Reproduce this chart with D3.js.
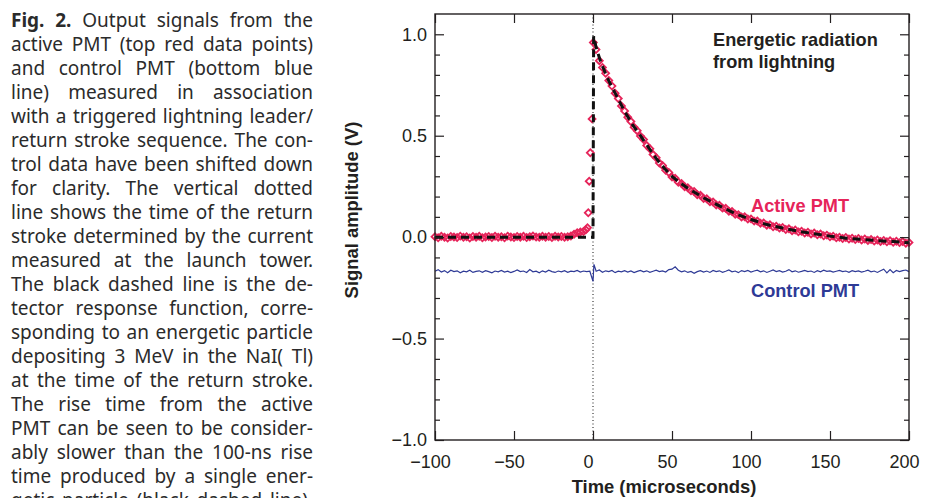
<!DOCTYPE html>
<html>
<head>
<meta charset="utf-8">
<script src="https://cdn.jsdelivr.net/npm/d3@7"></script>
<style>
  body { margin: 0; background: #fff; }
  svg { display: block; }
</style>
</head>
<body>
<div class="fig"></div>
<script>
var captionLines = [
  "Fig. 2. Output signals from the",
  "active PMT (top red data points)",
  "and control PMT (bottom blue",
  "line) measured in association",
  "with a triggered lightning leader/",
  "return stroke sequence. The con-",
  "trol data have been shifted down",
  "for clarity. The vertical dotted",
  "line shows the time of the return",
  "stroke determined by the current",
  "measured at the launch tower.",
  "The black dashed line is the de-",
  "tector response function, corre-",
  "sponding to an energetic particle",
  "depositing 3 MeV in the NaI( Tl)",
  "at the time of the return stroke.",
  "The rise time from the active",
  "PMT can be seen to be consider-",
  "ably slower than the 100-ns rise",
  "time produced by a single ener-",
  "getic particle (black dashed line)."
];

var xTicks = [-100, -50, 0, 50, 100, 150, 200];
var yTicks = [-1.0, -0.5, 0.0, 0.5, 1.0];
var yMinorTicks = [-0.9, -0.8, -0.7, -0.6, -0.4, -0.3, -0.2, -0.1, 0.1, 0.2, 0.3, 0.4, 0.6, 0.7, 0.8, 0.9];

// active PMT (red diamonds)
var activeTime = [
  -100, -98, -96, -94, -92, -90, -88, -86, -84, -82, -80, -78, -76, -74, -72, -70, -68, -66, -64, -62,
  -60, -58, -56, -54, -52, -50, -48, -46, -44, -42, -40, -38, -36, -34, -32, -30, -28, -26, -24, -22,
  -20, -18, -16, -14, -12, -10, -8, -6, -4.5, -3.5,
  -3.0, -2.4, -1.7, -0.6, 0.2, 1.9,
  4, 6, 8, 10, 12, 14, 16, 18, 20, 22, 24, 26, 28, 30, 32, 34, 36, 38, 40, 42,
  44, 46, 48, 50, 52, 54, 56, 58, 60, 62, 64, 66, 68, 70, 72, 74, 76, 78, 80, 82,
  84, 86, 88, 90, 92, 94, 96, 98, 100, 102, 104, 106, 108, 110, 112, 114, 116, 118, 120, 122,
  124, 126, 128, 130, 132, 134, 136, 138, 140, 142, 144, 146, 148, 150, 152, 154, 156, 158, 160, 162,
  164, 166, 168, 170, 172, 174, 176, 178, 180, 182, 184, 186, 188, 190, 192, 194, 196, 198, 200
];
var activeValue = [
  0.002, -0.003, 0.004, 0.000, -0.004, 0.003, 0.001, -0.002, 0.005, -0.001, 0.002, -0.004, 0.003, 0.000, 0.004, -0.003, 0.001, 0.003, -0.002, 0.004,
  0.000, 0.002, -0.003, 0.005, 0.001, -0.002, 0.003, 0.000, 0.004, -0.002, 0.002, 0.006, 0.001, -0.001, 0.004, 0.000, 0.003, -0.002, 0.004, 0.001,
  0.003, -0.001, 0.002, 0.006, 0.014, 0.022, 0.025, 0.028, 0.036, 0.046,
  0.120, 0.276, 0.416, 0.583, 0.960, 0.925,
  0.870, 0.836, 0.808, 0.772, 0.745, 0.709, 0.683, 0.647, 0.622, 0.591, 0.570, 0.542, 0.525, 0.498, 0.481, 0.452, 0.436, 0.407, 0.391, 0.365,
  0.353, 0.330, 0.319, 0.297, 0.290, 0.271, 0.265, 0.248, 0.244, 0.229, 0.225, 0.209, 0.206, 0.191, 0.189, 0.175, 0.173, 0.159, 0.157, 0.143,
  0.142, 0.128, 0.126, 0.113, 0.111, 0.099, 0.100, 0.089, 0.090, 0.079, 0.080, 0.069, 0.070, 0.059, 0.061, 0.051, 0.054, 0.045, 0.048, 0.038,
  0.041, 0.032, 0.035, 0.026, 0.029, 0.020, 0.024, 0.016, 0.020, 0.012, 0.015, 0.007, 0.010, 0.002, 0.005, -0.003, 0.000, -0.007, -0.002, -0.009,
  -0.005, -0.012, -0.007, -0.014, -0.009, -0.016, -0.012, -0.019, -0.014, -0.021, -0.016, -0.023, -0.018, -0.025, -0.020, -0.027, -0.022, -0.030, -0.026
];

// control PMT (blue line, shifted down)
var controlTime = [
  -100, -98, -96, -94, -92, -90, -88, -86, -84, -82, -80, -78, -76, -74, -72, -70, -68, -66, -64, -62,
  -60, -58, -56, -54, -52, -50, -48, -46, -44, -42, -40, -38, -36, -34, -32, -30, -28, -26, -24, -22,
  -20, -18, -16, -14, -12, -10, -8, -6, -4, -2, 0, 0.6,
  2, 4, 6, 8, 10, 12, 14, 16, 18, 20, 22, 24, 26, 28, 30, 32, 34, 36, 38, 40,
  42, 44, 46, 48, 50, 52, 54, 56, 58, 60, 62, 64, 66, 68, 70, 72, 74, 76, 78, 80,
  82, 84, 86, 88, 90, 92, 94, 96, 98, 100, 102, 104, 106, 108, 110, 112, 114, 116, 118, 120,
  122, 124, 126, 128, 130, 132, 134, 136, 138, 140, 142, 144, 146, 148, 150, 152, 154, 156, 158, 160,
  162, 164, 166, 168, 170, 172, 174, 176, 178, 180, 182, 184, 186, 188, 190, 192, 194, 196, 198, 200
];
var controlValue = [
  -0.168, -0.160, -0.172, -0.165, -0.175, -0.163, -0.170, -0.166, -0.176, -0.168, -0.171, -0.163, -0.174, -0.169, -0.166, -0.173, -0.165, -0.170, -0.176, -0.167,
  -0.171, -0.164, -0.172, -0.168, -0.175, -0.169, -0.162, -0.170, -0.167, -0.174, -0.160, -0.171, -0.168, -0.176, -0.166, -0.172, -0.163, -0.170, -0.174, -0.167,
  -0.171, -0.165, -0.173, -0.168, -0.170, -0.164, -0.172, -0.167, -0.170, -0.168, -0.218, -0.134,
  -0.168, -0.162, -0.173, -0.166, -0.170, -0.164, -0.175, -0.168, -0.171, -0.165, -0.172, -0.167, -0.175, -0.169, -0.164, -0.171, -0.166, -0.173, -0.168, -0.163,
  -0.170, -0.166, -0.172, -0.160, -0.158, -0.146, -0.163, -0.171, -0.166, -0.174, -0.169, -0.178, -0.170, -0.165, -0.172, -0.167, -0.174, -0.164, -0.170, -0.166,
  -0.173, -0.168, -0.162, -0.171, -0.167, -0.175, -0.165, -0.170, -0.164, -0.172, -0.167, -0.163, -0.171, -0.166, -0.174, -0.168, -0.162, -0.170, -0.165, -0.172,
  -0.168, -0.160, -0.171, -0.166, -0.173, -0.169, -0.164, -0.170, -0.167, -0.174, -0.165, -0.171, -0.163, -0.169, -0.166, -0.172, -0.168, -0.164, -0.170, -0.167,
  -0.173, -0.165, -0.170, -0.166, -0.172, -0.168, -0.163, -0.171, -0.167, -0.174, -0.166, -0.158, -0.176, -0.160, -0.175, -0.164, -0.170, -0.165, -0.162, -0.170
];

// detector response function (black dashed)
var responseTime = [-100, 0, 0.4, 2, 5, 10, 15, 20, 25, 30, 35, 40, 45, 50, 55, 60, 70, 80, 90, 100, 110, 120, 130, 140, 150, 160, 170, 180, 190, 200];
var responseValue = [0, 0, 0.99, 0.935, 0.86, 0.77, 0.695, 0.62, 0.555, 0.50, 0.444, 0.388, 0.341, 0.300, 0.268, 0.241, 0.194, 0.154, 0.116, 0.087, 0.062, 0.045, 0.029, 0.017, 0.005, -0.005, -0.011, -0.017, -0.022, -0.028];

var width = 925,
    height = 498;

var red = "#e6245a",
    blue = "#2e3a96",
    ink = "#231f20";

var svg = d3.select(".fig").append("svg")
    .attr("width", width)
    .attr("height", height);

// ---- caption, justified word by word
var capX = 11, capW = 302, capTop = 27, capLead = 24;
var cap = svg.append("g")
    .attr("class", "caption")
    .style("font-family", "'Noto Sans', 'Open Sans', sans-serif")
    .style("font-size", "19px")
    .attr("fill", "#2b2b2b");

var rows = captionLines.map(function(line, i){
  return line.split(" ").map(function(w, j){
    var t = cap.append("text")
        .attr("y", capTop + i * capLead)
        .text(w);
    if (i === 0 && j < 2) t.style("font-weight", "bold");
    return {node: t, w: t.node().getComputedTextLength()};
  });
});

var k = d3.min(rows, function(r){
  return (capW - 4 * (r.length - 1)) / d3.sum(r, function(d){ return d.w; });
});
k = Math.min(1, k);

rows.forEach(function(r){
  var s = d3.sum(r, function(d){ return d.w; }) * k;
  var gap = r.length > 1 ? (capW - s) / (r.length - 1) : 0;
  var x = capX;
  r.forEach(function(d){
    d.node.attr("x", x);
    if (k < 1) d.node.attr("textLength", d.w * k).attr("lengthAdjust", "spacingAndGlyphs");
    x += d.w * k + gap;
  });
});

// ---- plot
var x = d3.scaleLinear()
    .domain([-100, 200])
    .range([435, 909]);

var y = d3.scaleLinear()
    .domain([-1, 1.1])
    .range([440, 14]);

var plot = svg.append("g")
    .attr("class", "plot")
    .style("font-family", "'Liberation Sans', Arial, sans-serif");

// vertical dotted line at the return stroke
plot.append("line")
    .attr("x1", x(0))
    .attr("x2", x(0))
    .attr("y1", y.range()[1])
    .attr("y2", y.range()[0])
    .attr("stroke", "#111")
    .attr("stroke-width", 1)
    .attr("stroke-dasharray", "1,2.5");

var controlData = controlTime.map(function(t, i){ return [t, controlValue[i]]; });
var activeData = activeTime.map(function(t, i){ return [t, activeValue[i]]; });
var responseData = responseTime.map(function(t, i){ return [t, responseValue[i]]; });

var line = d3.line()
    .x(function(d){ return x(d[0]); })
    .y(function(d){ return y(d[1]); });

plot.append("path")
    .datum(controlData)
    .attr("d", line)
    .attr("fill", "none")
    .attr("stroke", blue)
    .attr("stroke-width", 1.2);

var diamond = d3.symbol().type(d3.symbolSquare).size(24);

plot.append("g")
    .attr("class", "active")
    .selectAll("path")
    .data(activeData)
    .enter()
    .append("path")
    .attr("d", diamond)
    .attr("transform", function(d){
      return "translate(" + x(d[0]) + "," + y(d[1]) + ") rotate(45)";
    })
    .attr("fill", "none")
    .attr("stroke", red)
    .attr("stroke-width", 1.8);

plot.append("path")
    .datum(responseData)
    .attr("d", line)
    .attr("fill", "none")
    .attr("stroke", "#111")
    .attr("stroke-width", 3)
    .attr("stroke-dasharray", "8,5");

// frame + ticks
function styleAxis(g){
  g.select(".domain").remove();
  g.selectAll(".tick line").attr("stroke", ink).attr("stroke-width", 1.2);
  g.selectAll(".tick text").attr("fill", ink).style("font-size", "18px");
}

plot.append("g")
    .attr("transform", "translate(" + x.range()[0] + ",0)")
    .call(d3.axisLeft(y).tickValues(yTicks).tickSize(-9).tickPadding(8).tickFormat(d3.format(".1f")))
    .call(styleAxis);

plot.append("g")
    .attr("transform", "translate(" + x.range()[0] + ",0)")
    .call(d3.axisLeft(y).tickValues(yMinorTicks).tickSize(-5).tickFormat(""))
    .call(styleAxis);

plot.append("g")
    .attr("transform", "translate(" + x.range()[1] + ",0)")
    .call(d3.axisRight(y).tickValues(yTicks).tickSize(-9).tickFormat(""))
    .call(styleAxis);

plot.append("g")
    .attr("transform", "translate(" + x.range()[1] + ",0)")
    .call(d3.axisRight(y).tickValues(yMinorTicks).tickSize(-5).tickFormat(""))
    .call(styleAxis);

plot.append("g")
    .attr("transform", "translate(0," + y.range()[0] + ")")
    .call(d3.axisBottom(x).tickValues(xTicks).tickSize(-9).tickPadding(15).tickFormat(d3.format("d")))
    .call(styleAxis)
    .selectAll(".tick text")
    .attr("dx", -5);

plot.append("g")
    .attr("transform", "translate(0," + y.range()[1] + ")")
    .call(d3.axisTop(x).tickValues(xTicks).tickSize(-9).tickFormat(""))
    .call(styleAxis);

plot.append("rect")
    .attr("x", x.range()[0])
    .attr("y", y.range()[1])
    .attr("width", x.range()[1] - x.range()[0])
    .attr("height", y.range()[0] - y.range()[1])
    .attr("fill", "none")
    .attr("stroke", ink)
    .attr("stroke-width", 1.4);

// axis titles
plot.append("text")
    .attr("x", (x.range()[0] + x.range()[1]) / 2 - 8)
    .attr("y", 493)
    .attr("text-anchor", "middle")
    .attr("fill", ink)
    .style("font-size", "18.4px")
    .style("font-weight", "bold")
    .text("Time (microseconds)");

plot.append("text")
    .attr("transform", "translate(358,210) rotate(-90)")
    .attr("text-anchor", "middle")
    .attr("fill", ink)
    .style("font-size", "18.4px")
    .style("font-weight", "bold")
    .text("Signal amplitude (V)");

// annotations
var notes = plot.append("g")
    .style("font-size", "18.2px")
    .style("font-weight", "bold");

notes.append("text")
    .attr("x", 713)
    .attr("y", 46)
    .attr("fill", ink)
    .text("Energetic radiation");

notes.append("text")
    .attr("x", 713)
    .attr("y", 68)
    .attr("fill", ink)
    .text("from lightning");

notes.append("text")
    .attr("x", 751)
    .attr("y", 212)
    .attr("fill", red)
    .text("Active PMT");

notes.append("text")
    .attr("x", 751)
    .attr("y", 297)
    .attr("fill", blue)
    .text("Control PMT");
</script>
</body>
</html>
